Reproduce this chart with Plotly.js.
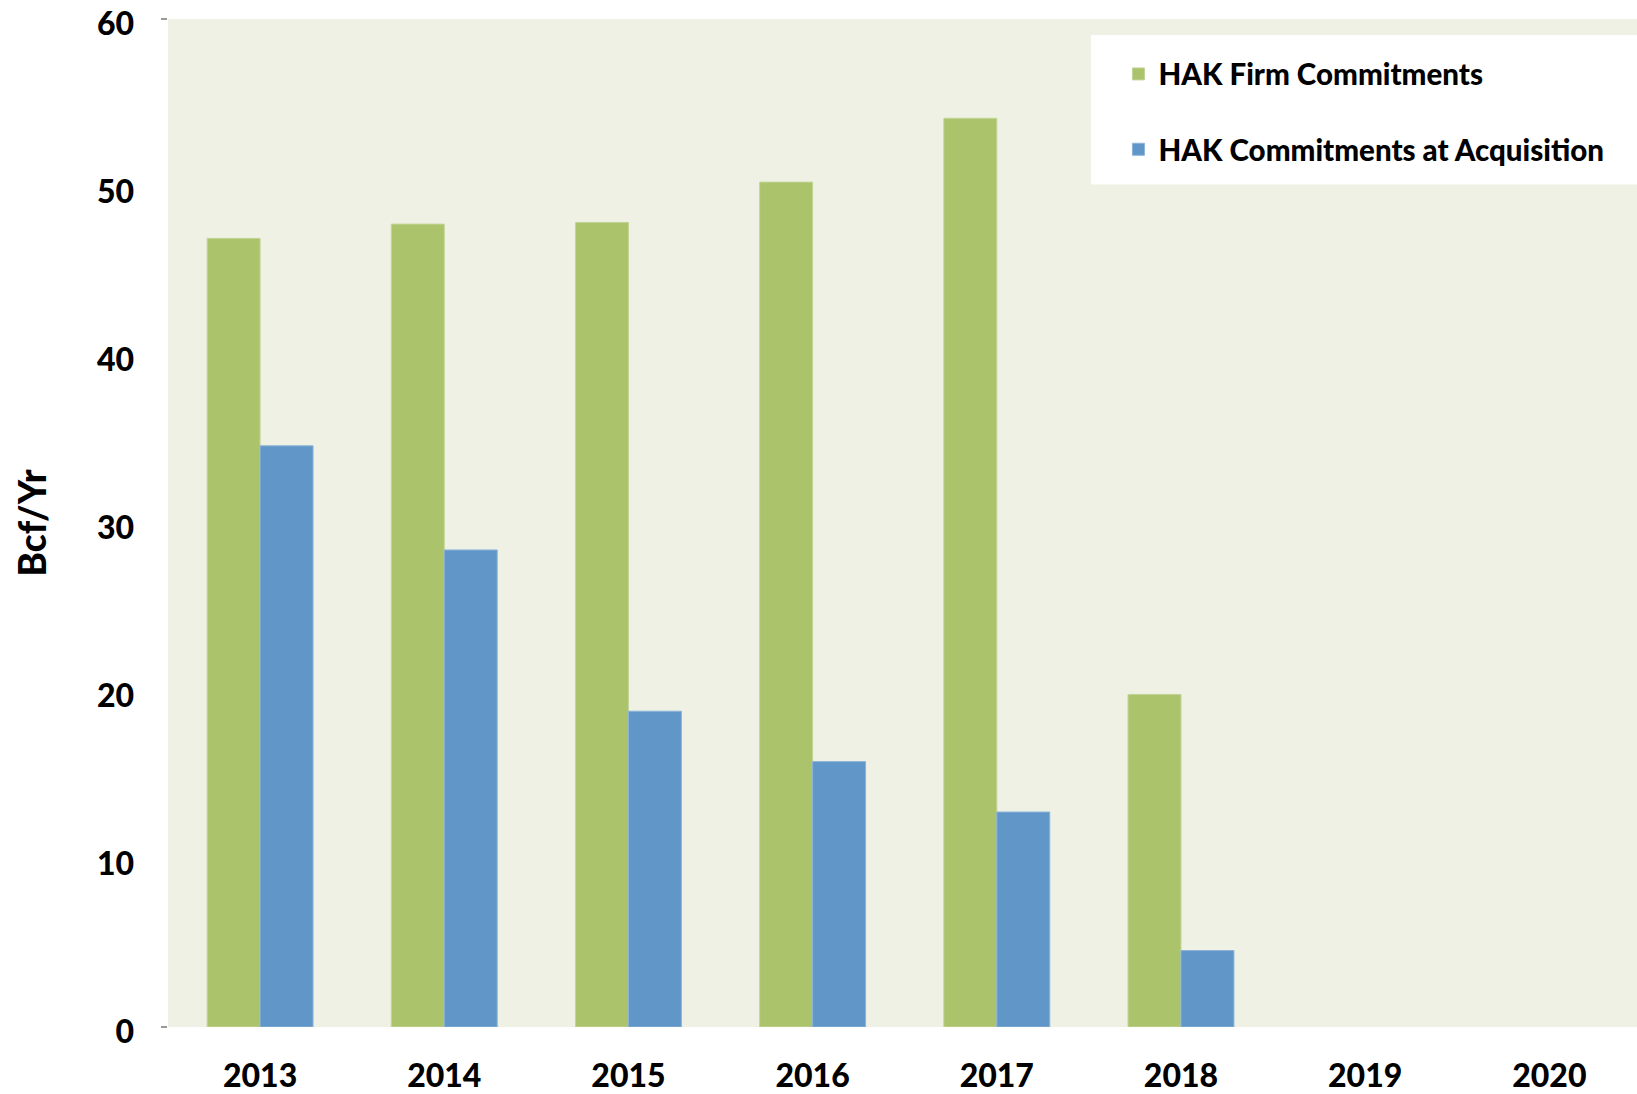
<!DOCTYPE html>
<html>
<head>
<meta charset="utf-8">
<script src="https://cdn.plot.ly/plotly-3.0.1.min.js"></script>
<style>html,body{margin:0;padding:0;background:#fff;}#chart{width:1637px;height:1094px;}</style>
</head>
<body>
<div id="chart"></div>
<script>
const years = ['2013','2014','2015','2016','2017','2018','2019','2020'];
const firmCommitments = [46.95, 47.8, 47.9, 50.3, 54.1, 19.8, null, null];
const acquisitionCommitments = [34.6, 28.4, 18.8, 15.8, 12.8, 4.55, null, null];
const yTicks = [0, 10, 20, 30, 40, 50, 60];
const edgeTicks = [0, 60];
const seriesNames = ['HAK Firm Commitments', 'HAK Commitments at Acquisition'];

const FONT = 'Lato, "Open Sans", sans-serif';
const W = 900;

const traces = [
  {
    type: 'bar', x: years, y: firmCommitments, name: seriesNames[0],
    legendgroup: 'a',
    marker: {color: '#ABC46C', line: {color: '#C3D498', width: 1}},
    hoverinfo: 'x+y'
  },
  {
    type: 'bar', x: years, y: acquisitionCommitments, name: seriesNames[1],
    legendgroup: 'b',
    marker: {color: '#6096C8', line: {color: '#8DB3D8', width: 1}},
    hoverinfo: 'x+y'
  },
  {
    type: 'scatter', mode: 'markers', x: [years[0]], y: [null], yaxis: 'y2',
    showlegend: false, hoverinfo: 'skip'
  }
];

const layout = {
  width: 1637, height: 1094,
  margin: {l: 168, r: 0, t: 19, b: 67, pad: 0},
  paper_bgcolor: '#FFFFFF',
  plot_bgcolor: '#F0F1E5',
  barmode: 'group',
  bargap: 0.425,
  bargroupgap: 0,
  font: {family: FONT, color: '#000000'},
  xaxis: {
    type: 'category',
    range: [-0.5, 7.476],
    showgrid: false, zeroline: false, showline: false,
    ticks: '',
    tickfont: {family: FONT, size: 32, weight: W, color: '#000'},
    ticklabelstandoff: 27
  },
  yaxis: {
    range: [0, 60.01],
    tickvals: yTicks,
    showgrid: false, zeroline: false, showline: false,
    ticks: '',
    tickfont: {family: FONT, size: 32, weight: W, color: '#000'},
    ticklabelstandoff: 33,
    ticklabelshift: 5,
    ticklabeloverflow: 'allow',
    title: {text: 'Bcf/Yr', font: {family: FONT, size: 37, weight: W, color: '#000'}, standoff: 38}
  },
  yaxis2: {
    overlaying: 'y', side: 'left', range: [0, 60.01],
    tickvals: edgeTicks, ticks: 'outside', ticklen: 6, tickcolor: '#999999', tickwidth: 2,
    showticklabels: false, showgrid: false, zeroline: false, showline: false
  },
  showlegend: true,
  legend: {
    x: 0.647, y: 0.971, xanchor: 'left', yanchor: 'top',
    bgcolor: 'rgba(0,0,0,0)', borderwidth: 0,
    traceorder: 'grouped', tracegroupgap: 34,
    font: {family: FONT, size: 29.5, weight: W, color: '#000'}
  },
  shapes: [
    {type: 'rect', xref: 'paper', yref: 'paper', x0: 0.6283, x1: 1.0, y0: 0.8358, y1: 0.9841,
     fillcolor: '#FFFFFF', line: {width: 0}, layer: 'above'}
  ]
};

Plotly.newPlot('chart', traces, layout, {displayModeBar: false, staticPlot: true});
</script>
</body>
</html>
